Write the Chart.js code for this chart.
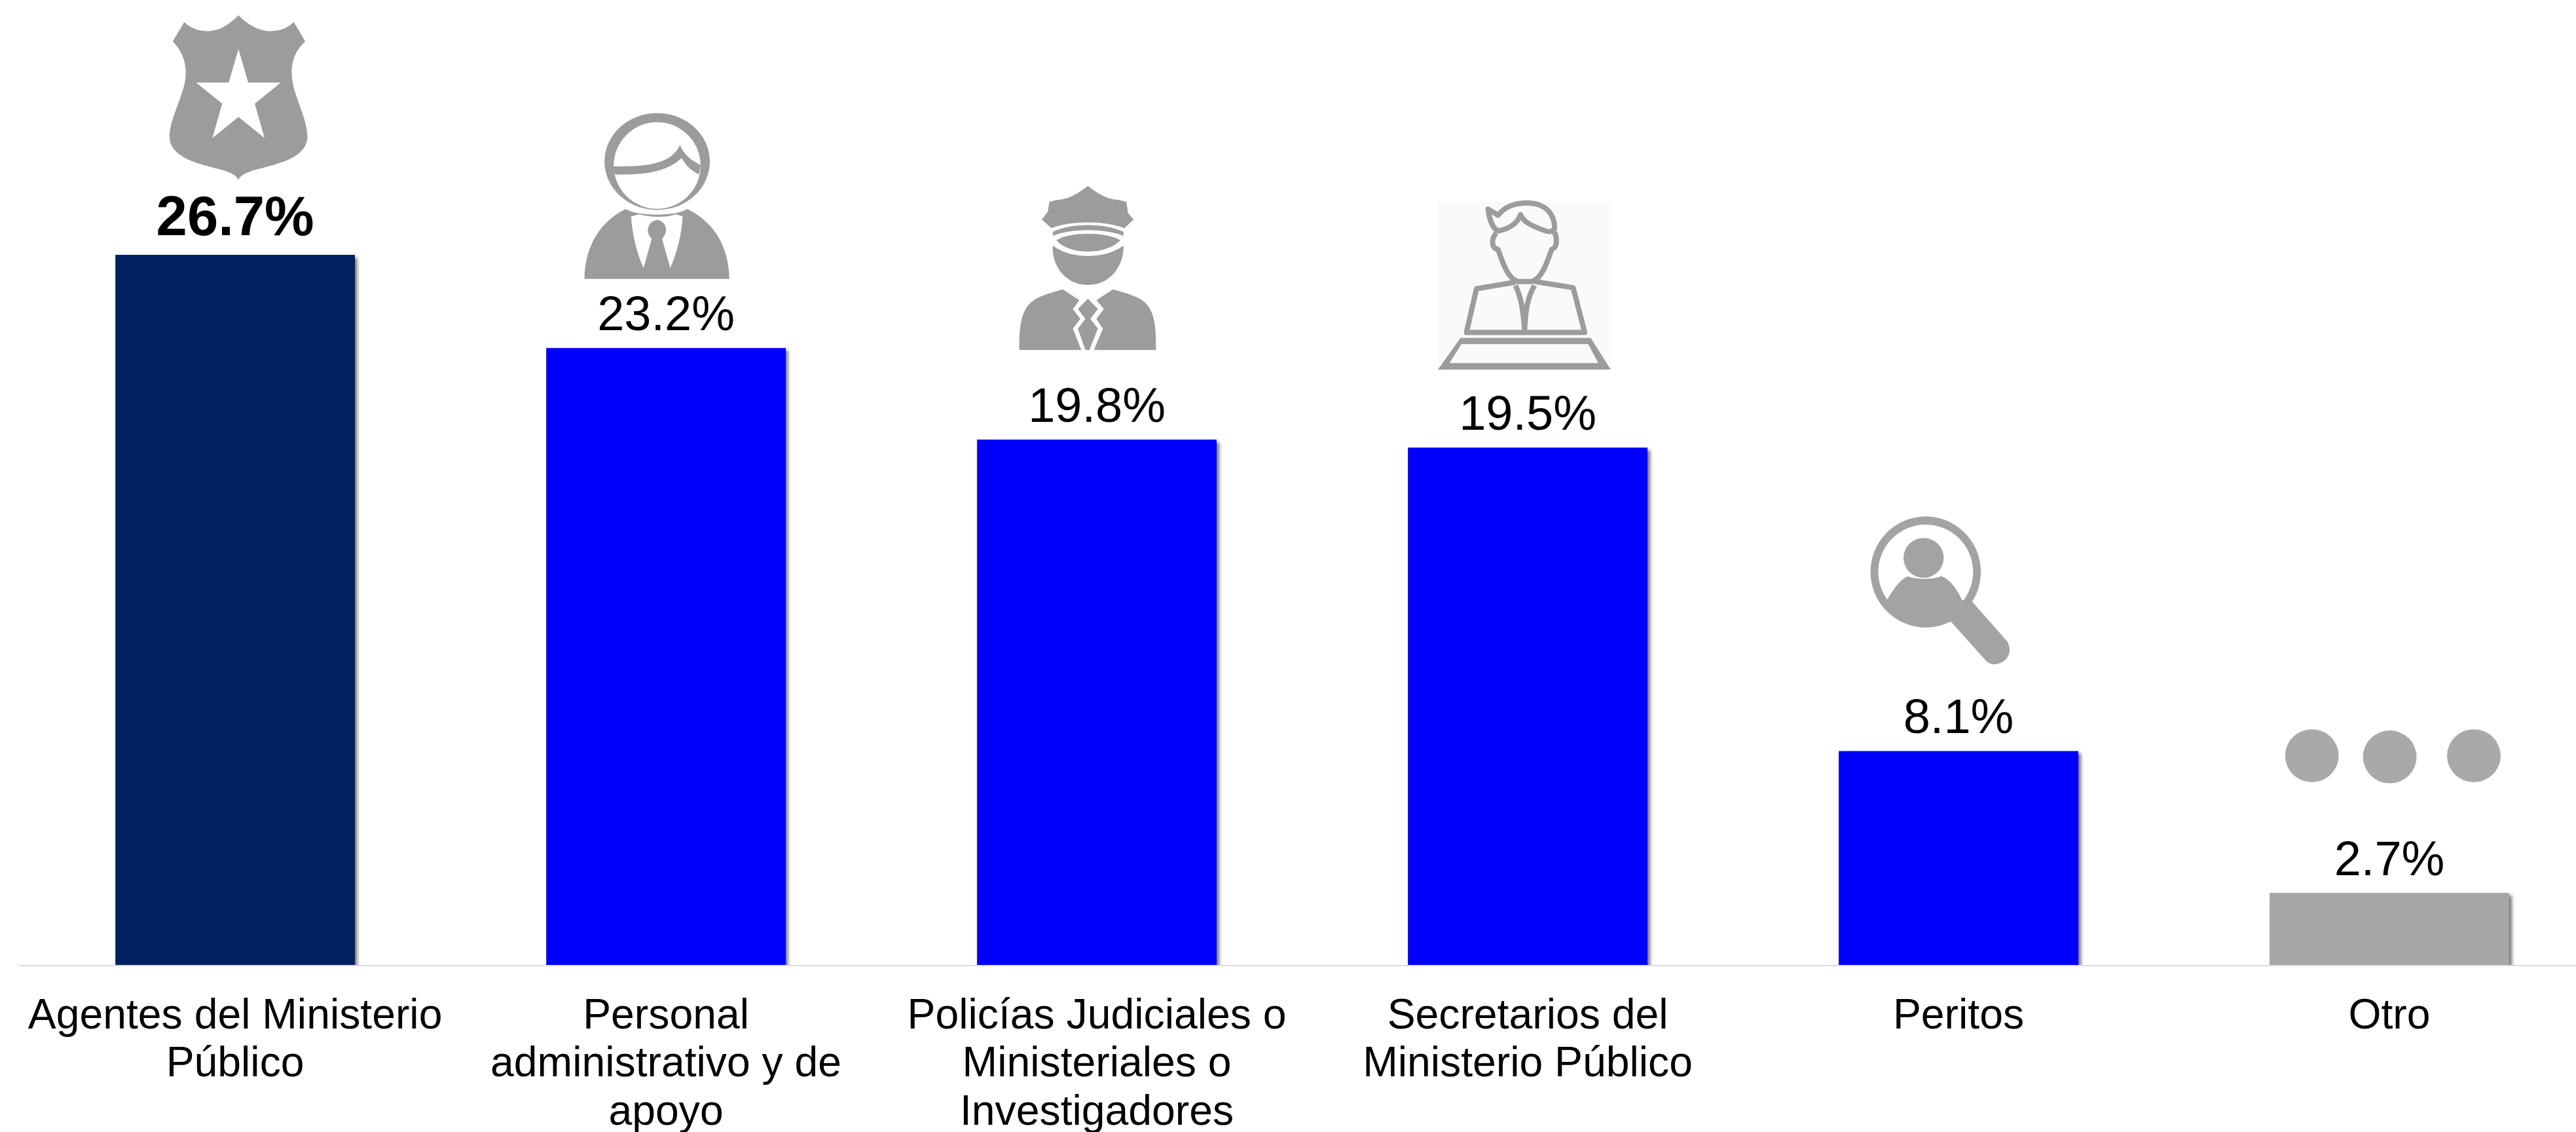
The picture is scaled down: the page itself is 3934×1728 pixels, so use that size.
<!DOCTYPE html>
<html>
<head>
<meta charset="utf-8">
<title>Chart</title>
<script src="https://cdn.jsdelivr.net/npm/chart.js@4"></script>
<style>
html,body{margin:0;padding:0;background:#fff;overflow:hidden;width:3934px;height:1728px;}
canvas{display:block;}
</style>
</head>
<body>
<canvas id="chart" width="3978" height="1728"></canvas>
<script>
let categories=[
["Agentes del Ministerio","Público"],
["Personal","administrativo y de","apoyo"],
["Policías Judiciales o","Ministeriales o","Investigadores"],
["Secretarios del","Ministerio Público"],
["Peritos"],
["Otro"]
];
let values=[26.7,23.2,19.76,19.46,8.06,2.73];
let barColors=["#002060","#0000FF","#0000FF","#0000FF","#0000FF","#A6A6A6"];

function ellipse(cx,cy,rx,ry){
return "M"+(cx-rx)+" "+cy+" a"+rx+" "+ry+" 0 1 0 "+(2*rx)+" 0 a"+rx+" "+ry+" 0 1 0 "+(-2*rx)+" 0 Z ";
}

// pictograms above the bars: dx,dy from the top centre of the bar, sx,sy shrink the drawing
let icons=[
{dx:-351.5,dy:-389,sx:1/1.206,sy:1/2.8,color:"#9C9C9C",parts:[
{d:"M430 65 C445 100 465 133 490 133 C510 133 522 115 532 95 L553 177 C535 215 528 260 528 310 C528 400 557 500 557 585 C557 640 535 680 495 705 C465 725 435 735 430 770 C425 735 395 725 365 705 C325 680 303 640 303 585 C303 500 333 400 333 310 C333 260 325 215 309 177 L330 95 C340 115 352 133 372 133 C397 133 415 100 430 65 Z "+
"M430 210 L448 353 L508 353 L460 443 L478 590 L430 500 L382 590 L400 443 L352 353 L412 353 Z"}
]},
{dx:-1011,dy:-531,sx:1/1.206,sy:1/2.8,color:"#9C9C9C",parts:[
{d:ellipse(1203,690,97,207)+ellipse(1203,707,80,185)},
{d:"M1122 710 C1190 715 1230 695 1245 620 C1252 660 1265 685 1283 705 L1280 745 C1262 725 1255 700 1248 675 C1225 725 1190 750 1125 745 Z"},
{d:"M1145 893 C1165 925 1240 925 1258 893 C1310 950 1335 1060 1336 1192 L1069 1192 C1070 1060 1095 950 1145 893 Z "+
"M1155 925 L1170 915 C1190 930 1220 930 1238 915 L1250 925 C1248 1000 1240 1080 1227 1145 L1212 1020 C1225 990 1220 945 1203 940 C1186 945 1180 990 1193 1020 L1178 1145 C1165 1080 1157 1000 1155 925 Z"}
]},
{dx:-270,dy:-431,sx:1/1.307,sy:1/3,color:"#9C9C9C",parts:[
{d:"M335 132 C350 155 365 190 400 197 L412 205 L415 255 L426 285 L408 325 C370 290 300 290 262 325 L243 285 L255 250 L258 205 L270 197 C305 190 320 155 335 132 Z"},
{d:"M265 342 C300 300 370 300 406 342 L406 360 C370 325 300 325 265 360 Z"},
{d:"M272 380 C300 340 370 340 400 380 C385 415 360 432 335 432 C310 432 285 415 272 380 Z"},
{d:"M265 405 C285 440 310 452 335 452 C360 452 385 440 406 405 C408 480 385 585 335 585 C285 585 262 480 265 405 Z"},
{d:"M285 605 L318 655 L305 695 L320 740 L305 785 L322 883 L198 883 C198 780 200 690 230 650 C245 630 265 618 285 605 Z"},
{d:"M385 605 L352 655 L367 695 L352 740 L365 785 L347 883 L471 883 C471 780 470 690 440 650 C425 630 405 618 385 605 Z"},
{d:"M335 648 L355 695 L340 740 L355 785 L338 883 L330 883 L315 785 L330 740 L315 695 Z"}
]},
{dx:-929,dy:-444,sx:1/1.307,sy:1/3,color:"#9C9C9C",parts:[
{d:"M1035 205 L1380 205 L1380 975 L1035 975 Z",color:"#FAFAFA"},
{d:"M1135 240 L1155 268 C1170 225 1190 212 1215 212 C1250 215 1268 260 1268 330 C1262 345 1258 345 1250 340 C1225 320 1205 300 1200 265 C1195 300 1180 330 1155 340 C1145 330 1138 290 1135 240 Z",stroke:8},
{d:"M1152 350 C1142 370 1140 420 1155 425 C1165 490 1175 560 1195 572 L1222 572 C1242 560 1252 490 1262 425 C1275 415 1272 370 1268 345",stroke:8},
{d:"M1190 575 L1112 605 L1092 805 L1328 805 L1305 600 L1228 572 M1190 590 C1200 640 1205 690 1208 800 M1228 590 C1215 640 1210 690 1208 800",stroke:8},
{d:"M1080 830 L1340 830 L1380 975 L1035 975 Z M1082 858 L1335 858 L1355 945 L1058 945 Z"}
]},
{dx:-288,dy:-387,sx:1/1.27,sy:1/2.8,color:"#A3A3A3",parts:[
{d:ellipse(302,318,107,237)+ellipse(302,318,92,202)},
{d:"M228 435 C240 390 255 345 268 337 C280 350 318 352 330 337 C345 340 362 385 373 440 L392 445 L350 530 C335 545 320 555 302 555 C260 555 228 500 228 435 Z"},
{d:ellipse(298,258,39,85)},
{d:"M392 445 L460 615 C470 650 465 700 440 712 C430 716 422 705 418 695 L350 528 Z"}
]},
{dx:-949,dy:-603,sx:1/1.27,sy:1/2.8,color:"#A9A9A9",parts:[
{d:ellipse(1055,1102,52,113)+ellipse(1206,1107,52,113)+ellipse(1369,1102,52,113)}
]}
];

let barShadow={
id:"barShadow",
beforeDatasetDraw(chart){
let ctx=chart.ctx;
ctx.save();
ctx.shadowColor="rgba(70,70,70,0.75)";
ctx.shadowBlur=5;
ctx.shadowOffsetX=4;
ctx.shadowOffsetY=4;
},
afterDatasetDraw(chart){
chart.ctx.restore();
}
};

let valueLabels={
id:"valueLabels",
afterDatasetsDraw(chart){
let ctx=chart.ctx;
let bars=chart.getDatasetMeta(0).data;
ctx.save();
ctx.textAlign="center";
ctx.textBaseline="alphabetic";
ctx.fillStyle="#000";
bars.forEach(function(bar,i){
ctx.font=i===0?"bold 85px 'Liberation Sans'":"74px 'Liberation Sans'";
ctx.fillText(values[i].toFixed(1)+"%",bar.x,bar.y-(i===0?30:27));
});
ctx.restore();
}
};

let iconPlugin={
id:"iconPlugin",
afterDatasetsDraw(chart){
let ctx=chart.ctx;
let bars=chart.getDatasetMeta(0).data;
ctx.save();
icons.forEach(function(icon,i){
let m=new DOMMatrix([icon.sx,0,0,icon.sy,bars[i].x+icon.dx,bars[i].y+icon.dy]);
icon.parts.forEach(function(part){
let p=new Path2D();
p.addPath(new Path2D(part.d),m);
if(part.stroke){
ctx.strokeStyle=icon.color;
ctx.lineWidth=part.stroke;
ctx.lineJoin="round";
ctx.stroke(p);
}else{
ctx.fillStyle=part.color||icon.color;
ctx.fill(p,"evenodd");
}
});
});
ctx.restore();
}
};

new Chart(document.getElementById("chart"),{

type:"bar",

data:{
labels:categories,
datasets:[{
data:values,
backgroundColor:barColors,
borderWidth:0,
categoryPercentage:1,
barPercentage:0.556
}]
},

options:{
responsive:false,
animation:false,
layout:{padding:{left:22}},
plugins:{
legend:{display:false},
tooltip:{enabled:false}
},
scales:{
x:{
afterFit(scale){scale.height=254;},
grid:{display:false,drawTicks:false},
border:{display:true,color:"#DDDDDD",width:2,z:1},
ticks:{
color:"#000",
padding:41,
autoSkip:false,
maxRotation:0,
minRotation:0,
font:{family:"'Liberation Sans'",size:64.3,lineHeight:1.146}
}
},
y:{
display:false,
min:0,
max:36.27
}
}
},

plugins:[barShadow,valueLabels,iconPlugin]

});
</script>
</body>
</html>
